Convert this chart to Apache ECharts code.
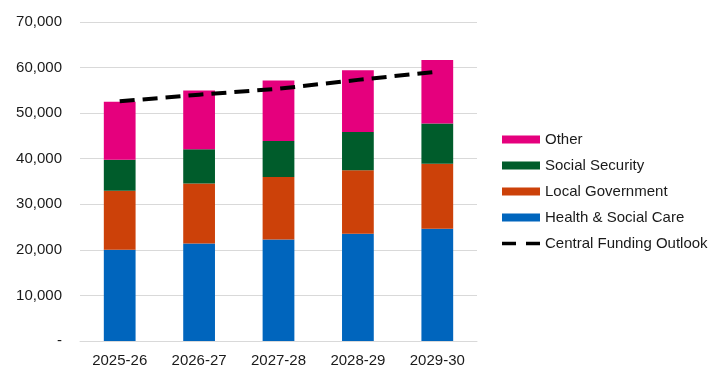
<!DOCTYPE html>
<html>
<head>
<meta charset="utf-8">
<script src="https://cdn.jsdelivr.net/npm/echarts@6/dist/echarts.min.js"></script>
<style>html,body{margin:0;padding:0;background:#fff}#c{width:721px;height:374px}</style>
</head>
<body>
<div id="c"></div>
<script>
var categories = ['2025-26', '2026-27', '2027-28', '2028-29', '2029-30'];
var healthSocialCare = [20000, 21400, 22300, 23550, 24650];
var localGovernment = [12950, 13150, 13700, 13900, 14250];
var socialSecurity = [6850, 7500, 7900, 8400, 8850];
var other = [12700, 12900, 13250, 13550, 13900];
var centralFundingOutlook = [52600, 54050, 55350, 57300, 59100];
var yTicks = [0, 10000, 20000, 30000, 40000, 50000, 60000, 70000];

var font = 'Liberation Sans, Arial, sans-serif';
var chart = echarts.init(document.getElementById('c'), null, {renderer: 'canvas'});

function barSeries(name, data, color) {
  return {
    name: name, type: 'bar', stack: 'total', data: data, barWidth: '40%',
    itemStyle: {color: color}, emphasis: {disabled: true}
  };
}

var dashIcon = 'path://M0,0L0,0M38,8L38,8M0,2.2h14v3.6h-14zM24,2.2h14v3.6h-14z';

chart.setOption({
  animation: false,
  backgroundColor: '#fff',
  grid: {left: 80, right: 244, top: 22, bottom: 33, containLabel: false},
  legend: {
    orient: 'vertical', left: 502, top: 132, itemGap: 11, padding: 0,
    itemWidth: 38, itemHeight: 8,
    textStyle: {fontFamily: font, fontSize: 15, color: '#1a1a1a'},
    data: [
      {name: 'Other', icon: 'rect'},
      {name: 'Social Security', icon: 'rect'},
      {name: 'Local Government', icon: 'rect'},
      {name: 'Health & Social Care', icon: 'rect'},
      {name: 'Central Funding Outlook', icon: dashIcon, itemStyle: {color: '#000'}}
    ]
  },
  xAxis: {
    type: 'category', data: categories,
    axisLine: {lineStyle: {color: '#d9d9d9', width: 1}},
    axisTick: {show: false},
    axisLabel: {fontFamily: font, fontSize: 15, color: '#1a1a1a', margin: 12}
  },
  yAxis: {
    type: 'value', min: yTicks[0], max: yTicks[yTicks.length - 1], interval: 10000,
    axisLine: {show: false}, axisTick: {show: false},
    splitLine: {lineStyle: {color: '#d9d9d9', width: 1}},
    axisLabel: {
      fontFamily: font, fontSize: 15, color: '#1a1a1a', margin: 18,
      formatter: function (v) { return v === 0 ? '-' : v.toLocaleString('en-US'); }
    }
  },
  series: [
    barSeries('Health & Social Care', healthSocialCare, '#0065BD'),
    barSeries('Local Government', localGovernment, '#CC4109'),
    barSeries('Social Security', socialSecurity, '#005C2B'),
    barSeries('Other', other, '#E5007D'),
    {
      name: 'Central Funding Outlook', type: 'line', data: centralFundingOutlook,
      symbol: 'none', z: 5,
      lineStyle: {color: '#000', width: 4, type: [15, 8]},
      itemStyle: {color: '#000'},
      emphasis: {disabled: true}
    }
  ]
});
</script>
</body>
</html>
